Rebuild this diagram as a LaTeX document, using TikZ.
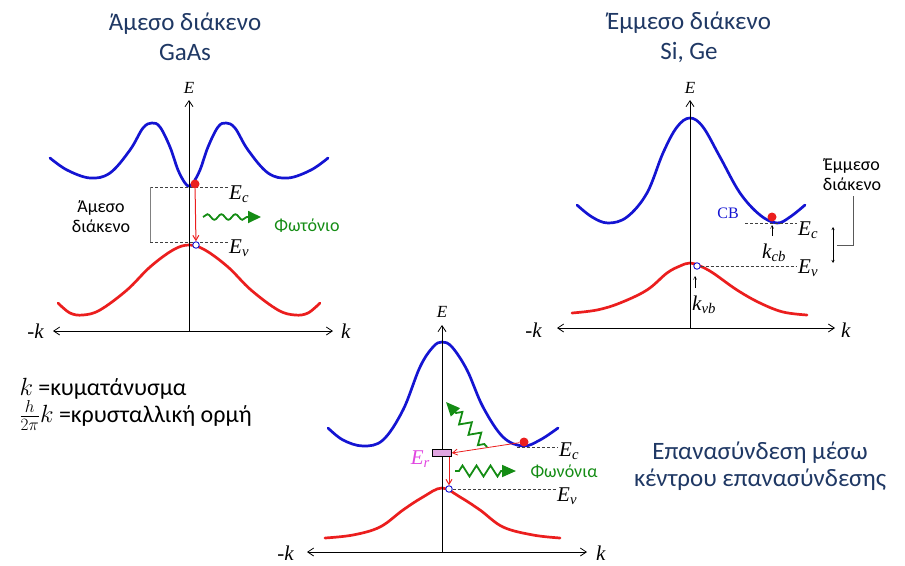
\documentclass[tikz,border=0pt]{standalone}
\usepackage{fontspec}
\setmainfont{Carlito}
\newfontfamily\seriffont{Liberation Serif}
\usepackage{tikz}
\usetikzlibrary{positioning,arrows.meta,decorations.pathmorphing}

\definecolor{titleblue}{RGB}{31,56,100}
\definecolor{bandblue}{RGB}{20,20,210}
\definecolor{bandred}{RGB}{235,30,30}
\definecolor{phgreen}{RGB}{20,140,20}
\definecolor{trapfill}{RGB}{225,165,225}
\definecolor{trapmag}{RGB}{225,70,225}

\tikzset{
  kaxis/.style={line width=0.8pt, {Straight Barb[length=6pt,width=8pt]}-{Straight Barb[length=6pt,width=8pt]}},
  eaxis/.style={line width=0.8pt, -{Straight Barb[length=6pt,width=8pt]}},
  cband/.style={bandblue, line width=2.7pt, line cap=round},
  vband/.style={bandred, line width=2.7pt, line cap=round},
  gapline/.style={black!75, line width=0.9pt, dash pattern=on 3pt off 2pt},
  lbl/.style={font=\fontsize{21}{22}\seriffont\itshape, inner sep=1pt, anchor=base west},
  elbl/.style={font=\fontsize{17}{18}\seriffont\itshape, inner sep=1pt, anchor=base},
  headline/.style={text=titleblue, font=\fontsize{25}{30}\selectfont, align=center},
  note/.style={font=\fontsize{18}{20}\selectfont, align=center, inner sep=1pt},
  electron/.style={circle, fill=bandred, inner sep=0pt, minimum size=9pt},
  hole/.style={circle, draw=bandblue, fill=white, line width=0.9pt, inner sep=0pt, minimum size=6.5pt},
  drop/.style={bandred, line width=1pt, -{Straight Barb[length=5pt,width=6pt]}},
  photon/.style={phgreen, line width=1.8pt, -{Triangle[length=13pt,width=12pt]}, decorate,
    decoration={snake, amplitude=2.8pt, segment length=14pt, post length=10pt}},
  phonon/.style={phgreen, line width=1.8pt, -{Triangle[length=14pt,width=12pt]}, decorate,
    decoration={zigzag, amplitude=5.5pt, segment length=14pt, pre length=4pt, post length=13pt}},
  pointer/.style={line width=0.5pt, -{Straight Barb[length=3pt,width=3pt]}},
}

\begin{document}
\begin{tikzpicture}[x=1pt, y=-1pt]
    \useasboundingbox (0,0) rectangle (905,565);

    % Direct gap (Left)
    \node[headline] (titleL) at (185,37) {Άμεσο διάκενο\\GaAs};
    \coordinate (Lkneg) at (53,331);
    \coordinate (Lkpos) at (333,331);
    \coordinate (Ltop) at (189,100);
    \draw[cband] plot[smooth, tension=0.6] coordinates {(50,158) (67,170) (90,178) (110,173) (130,150) (143,128) (152,123) (160,127) (170,147) (178,170) (185,183) (189,186) (193,183) (200,170) (208,147) (218,127) (226,123) (235,128) (248,150) (268,173) (288,178) (311,170) (328,158)};
    \draw[vband] plot[smooth, tension=0.6] coordinates {(58,303) (70,313) (83,315) (100,310) (127,290) (150,267) (173,250) (189,245) (205,250) (228,267) (251,290) (278,310) (295,315) (308,313) (320,303)};
    \draw[kaxis] (Lkneg) -- (Lkpos);
    \draw[eaxis] (Lkneg -| Ltop) -- (Ltop);
    \node[elbl] (LE) at (189,93) {E};
    \node[lbl, anchor=base east] (Lmk) at (45,338) {-k};
    \node[lbl] (Lk) at (340,338) {k};
    \node[lbl] (LEc) at (228,199) {E\textsubscript{c}};
    \node[lbl] (LEv) at (228,253) {E\textsubscript{v}};
    \coordinate (LbrT) at (150,187);
    \coordinate (LbrB) at (150,242);
    \draw[gapline] (LbrT) -- (LbrT -| LEc.west);
    \draw[gapline] (LbrB) -- (LbrB -| LEv.west);
    \draw[gray, line width=0.8pt] (LbrT) -- (LbrB);
    \node[note] (Lgap) at (101,217) {Άμεσο\\διάκενο};
    \node[electron] (Lel) at (195,184) {};
    \node[hole] (Lhole) at (196,245) {};
    \draw[drop] (Lel) -- (Lhole);
    \coordinate (Lph) at (203,217);
    \draw[photon] (Lph) -- ++(58,0);
    \node[note, text=phgreen] (Lphot) at (307,226) {Φωτόνιο};

    % Indirect gap (Right)
    \node[headline] (titleR) at (689,37) {Έμμεσο διάκενο\\Si, Ge};
    \coordinate (Rkneg) at (557,328);
    \coordinate (Rkpos) at (835,328);
    \coordinate (Rtop) at (690,100);
    \draw[cband] plot[smooth, tension=0.6] coordinates {(577,205) (592,217) (608,223) (627,217) (647,193) (663,153) (677,127) (690,118) (703,127) (720,157) (740,193) (760,215) (777,223) (790,217) (805,205)};
    \draw[vband] plot[smooth, tension=0.6] coordinates {(572,313) (597,310) (620,303) (647,290) (667,273) (680,266) (690,263) (700,266) (713,273) (737,290) (760,303) (783,312) (807,315)};
    \draw[kaxis] (Rkneg) -- (Rkpos);
    \draw[eaxis] (Rkneg -| Rtop) -- (Rtop);
    \node[elbl] (RE) at (690,93) {E};
    \node[lbl, anchor=base east] (Rmk) at (543,337) {-k};
    \node[lbl] (Rk) at (840,337) {k};
    \node[lbl] (REc) at (797,235) {E\textsubscript{c}};
    \node[lbl] (REv) at (797,273) {E\textsubscript{v}};
    \node[electron] (Rel) at (772,217) {};
    \node[hole] (Rhole) at (697,266) {};
    \node[lbl, anchor=base east, text=bandblue, font=\fontsize{16}{18}\seriffont] (RCB) at (740,218) {CB};
    \draw[gapline] (745,223) -- (REc.west |- 745,223);
    \draw[gapline] (Rhole) -- (REv.west |- Rhole);
    \node[lbl] (Rkcb) at (761,258) {k\textsubscript{cb}};
    \node[lbl] (Rkvb) at (691,310) {k\textsubscript{vb}};
    \draw[pointer] (772,236) -- (772,225);
    \draw[pointer] (695,288) -- (695,276);
    \draw[line width=0.5pt, {Stealth[length=3pt,width=3pt]}-{Stealth[length=3pt,width=3pt]}] (833,227) -- (833,263);
    \node[note] (Rgap) at (852,175) {Έμμεσο\\διάκενο};
    \draw[gray!70!black, line width=0.7pt] (837,245) -- (853,245) -- (853,196);

    % Recombination centre (Bottom)
    \coordinate (Bkneg) at (307,552);
    \coordinate (Bkpos) at (587,552);
    \coordinate (Btop) at (442,325);
    \draw[cband] plot[smooth, tension=0.6] coordinates {(328,428) (343,440) (363,446) (383,440) (403,410) (420,367) (433,347) (442,342) (452,347) (467,370) (483,407) (503,437) (523,446) (540,440) (558,428)};
    \draw[vband] plot[smooth, tension=0.6] coordinates {(325,538) (353,535) (380,527) (403,510) (423,497) (442,488) (460,497) (480,510) (503,527) (533,535) (560,538)};
    \draw[kaxis] (Bkneg) -- (Bkpos);
    \draw[eaxis] (Bkneg -| Btop) -- (Btop);
    \node[elbl] (BE) at (442,317) {E};
    \node[lbl, anchor=base east] (Bmk) at (295,560) {-k};
    \node[lbl] (Bk) at (595,560) {k};
    \node[lbl] (BEc) at (558,456) {E\textsubscript{c}};
    \node[lbl] (BEv) at (556,501) {E\textsubscript{v}};
    \node[electron] (Bel) at (524,442) {};
    \node[hole] (Bhole) at (449,489) {};
    \node[draw, fill=trapfill, line width=0.6pt, minimum width=19pt, minimum height=7pt, inner sep=0pt] (Btrap) at (442,453) {};
    \node[lbl, anchor=base east, text=trapmag] (BEr) at (431,464) {E\textsubscript{r}};
    \draw[gapline] (517,447) -- (BEc.west |- 517,447);
    \draw[gapline] (Bhole) -- (BEv.west |- Bhole);
    \draw[drop, line width=0.8pt] (Bel) -- (Btrap.east);
    \draw[drop] (Btrap.south -| Bhole) -- (Bhole);
    \coordinate (Bph1) at (487,447);
    \coordinate (Bph2) at (455,471);
    \draw[phonon] (Bph1) -- (446,402);
    \draw[phonon] (Bph2) -- (516,471);
    \node[note, text=phgreen] (Bphon) at (564,472) {Φωνόνια};

    % Notes
    \node[anchor=base west, font=\fontsize{24}{29}\selectfont] (kdef) at (16,395) {$k$ =κυματάνυσμα};
    \node[anchor=base west, font=\fontsize{24}{29}\selectfont] (pdef) at (16,422) {$\frac{h}{2\pi}k$ =κρυσταλλική ορμή};
    \node[headline, font=\fontsize{25}{27}\selectfont] (recomb) at (760,466) {Επανασύνδεση μέσω\\κέντρου επανασύνδεσης};
\end{tikzpicture}
\end{document}
